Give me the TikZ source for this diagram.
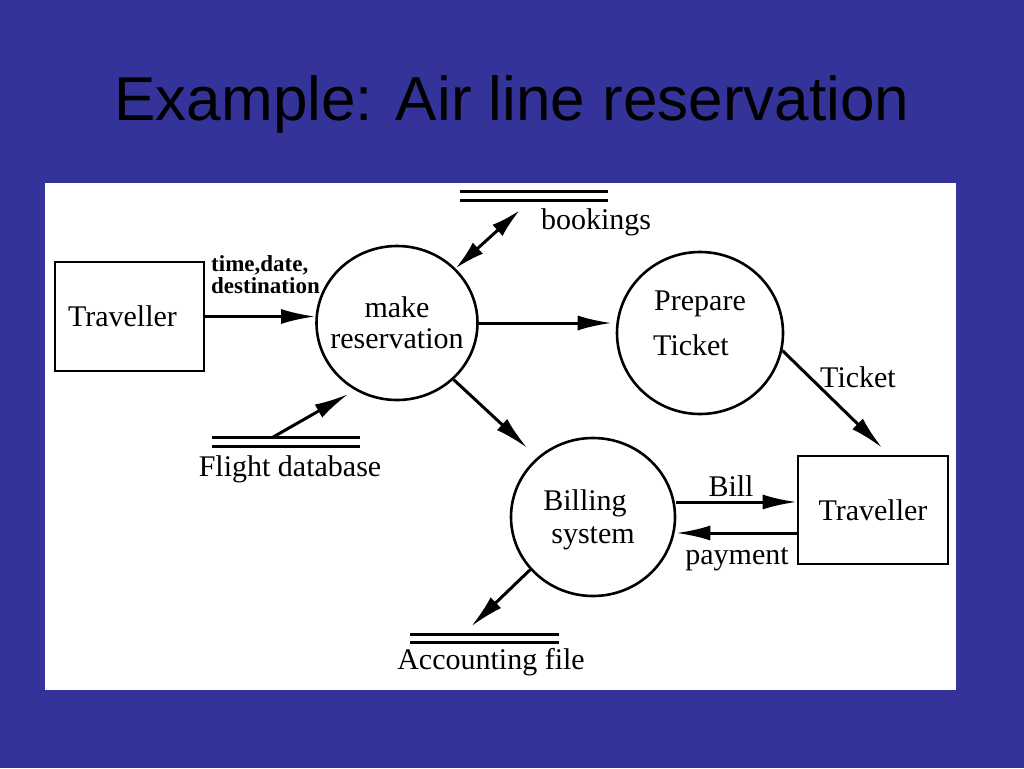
\documentclass[tikz,border=0pt]{standalone}
\usepackage{fontspec}
\setmainfont{Liberation Serif}
\newfontfamily\titlefont{Liberation Sans}
\usetikzlibrary{arrows.meta,shapes.geometric,calc}
\definecolor{slideblue}{HTML}{333399}
\newcommand\ctext[2]{\makebox[0pt]{\raisebox{#1}[0pt][0pt]{\begin{tabular}{@{}c@{}}#2\end{tabular}}}}
\tikzset{
  flow/.style={line width=3pt,-{Latex[length=34pt,width=15pt]}},
  proc/.style={draw,ellipse,line width=2.6pt,inner sep=0pt,font=\fontsize{30}{31}\selectfont},
  ext/.style={draw,rectangle,line width=2.6pt,inner sep=0pt,font=\fontsize{30}{31}\selectfont},
  store/.style={rectangle,inner sep=0pt,minimum height=8pt},
  lbl/.style={inner sep=0pt,font=\fontsize{30}{31}\selectfont},
  storeline/.style={line width=3pt}
}
\begin{document}
\begin{tikzpicture}[x=1pt,y=-1pt]
\fill[slideblue] (0,0) rectangle (1024,768);
\useasboundingbox (0,0) rectangle (1024,768);
\fill[white] (45,183) rectangle (956,690);
\node[anchor=base,inner sep=0pt,font=\titlefont\fontsize{62}{64}\selectfont] (title) at (512,120) {Example: Air line reservation};

% external entities
\node[ext,minimum width=149pt,minimum height=109pt] (t1) at (129.5,316.5) {Traveller\hspace*{14pt}};
\node[ext,minimum width=150pt,minimum height=108pt] (t2) at (873,510) {Traveller};

% processes
\node[proc,minimum width=161pt,minimum height=154pt] (mr) at (397,323) {\ctext{-10pt}{make\\reservation}};
\node[proc,minimum width=166pt,minimum height=162pt] (pt) at (700,333) {\ctext{0pt}{Prepare\\[14pt]Ticket\hspace*{18pt}}};
\node[proc,minimum width=164pt,minimum height=158pt] (bs) at (593,517) {\ctext{-10pt}{Billing\hspace*{16pt}\\[2pt]system}};

% stores
\node[store,minimum width=148pt] (bk) at (534,196) {};
\node[store,minimum width=148pt] (fd) at (286,442) {};
\node[store,minimum width=148pt] (af) at (484.5,638.5) {};
\foreach \s in {bk,fd,af}{
  \draw[storeline] (\s.north west) -- (\s.north east);
  \draw[storeline] (\s.south west) -- (\s.south east);
}
\node[lbl] (bkl) at (596,222) {bookings};
\node[lbl] (fdl) at (290,469) {Flight database};
\node[lbl] (afl) at (491,662) {Accounting file};

% flows
\draw[flow] (t1.east) -- (t1.east -| mr.west);
\node[inner sep=0pt,anchor=north west,align=left,font=\bfseries\fontsize{23}{22}\selectfont] (tdd) at (211,255) {time,date,\\destination};

\draw[line width=3pt,{Latex[length=30pt,width=15pt]}-{Latex[length=30pt,width=15pt]}] (mr.43) -- ($(bk.south west)+(60,10)$);

\draw[flow,shorten >=4pt] (mr.east) -- (mr.east -| pt.west);
\draw[flow] (pt.-12) -- ($(t2.north)+(9,-7)$);
\node[lbl] (tkl) at (858,377) {Ticket};

\draw[flow,shorten >=14pt] (mr.-45) -- (bs.133);
\draw[flow,shorten >=8pt] ($(fd.north west)+(60,0)$) -- (mr.-122);

\coordinate (b1) at ([yshift=8pt]t2.west);
\coordinate (p1) at ([yshift=-23pt]t2.west);
\draw[flow] (b1 -| bs.east) -- (b1);
\draw[flow] (p1) -- (p1 -| bs.east);
\node[lbl] (billl) at (731,486) {Bill};
\node[lbl] (payl) at (737,559) {payment};

\draw[flow] (bs.220) -- ($(af.north west)+(61,-8)$);
\end{tikzpicture}
\end{document}
